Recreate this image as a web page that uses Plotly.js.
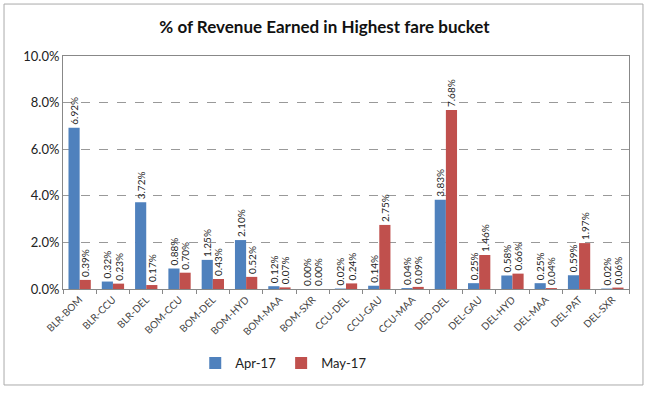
<!DOCTYPE html>
<html><head><meta charset="utf-8">
<script src="https://cdn.plot.ly/plotly-3.0.1.min.js"></script>
<style>html,body{margin:0;padding:0;background:#fff}#c{width:649px;height:393px}</style>
</head><body><div id="c"></div>
<script>
const categories = ["BLR-BOM","BLR-CCU","BLR-DEL","BOM-CCU","BOM-DEL","BOM-HYD","BOM-MAA","BOM-SXR","CCU-DEL","CCU-GAU","CCU-MAA","DED-DEL","DEL-GAU","DEL-HYD","DEL-MAA","DEL-PAT","DEL-SXR"];
const apr17 = [6.92,0.32,3.72,0.88,1.25,2.10,0.12,0.00,0.02,0.14,0.04,3.83,0.25,0.58,0.25,0.59,0.02];
const may17 = [0.39,0.23,0.17,0.70,0.43,0.52,0.07,0.00,0.24,2.75,0.09,7.68,1.46,0.66,0.04,1.97,0.06];
const yTicks = [0,2,4,6,8,10];

const font = "Lato, 'Open Sans', sans-serif";
const mk = (name, y, color) => ({
  type: 'bar', name, x: categories, y,
  marker: {color},
  text: y.map(v => v.toFixed(2) + '%'),
  textposition: 'outside', textangle: -90, constraintext: 'none',
  textfont: {size: 10, color: '#222', family: font},
  cliponaxis: false
});
const data = [mk('Apr-17', apr17, '#4F81BD'), mk('May-17', may17, '#C0504D')];
const layout = {
  width: 649, height: 393,
  margin: {l: 63, r: 20, t: 56, b: 104},
  paper_bgcolor: '#fff', plot_bgcolor: '#fff',
  font: {family: font, color: '#222'},
  title: {text: '<b>% of Revenue Earned in Highest fare bucket</b>', font: {size: 17, family: font, color: '#111'}, x: 0.5, xanchor: 'center', y: 0.932, yanchor: 'middle'},
  barmode: 'group', bargap: 0.33, bargroupgap: 0,
  showlegend: true,
  legend: {orientation: 'h', x: 0.39, xanchor: 'center', y: -0.318, yanchor: 'middle', font: {size: 13, family: font}, itemwidth: 30, itemsizing: 'constant'},
  xaxis: {
    type: 'category', tickangle: -45, tickfont: {size: 10, family: font, color: '#444'},
    showline: true, linecolor: '#888', mirror: true,
    ticks: 'outside', ticklen: 4, tickcolor: '#888', tickson: 'boundaries',
    showgrid: false, zeroline: false
  },
  yaxis: {
    range: [0, 10], tickvals: yTicks, ticktext: yTicks.map(v => v.toFixed(1) + '%'),
    tickfont: {size: 13, family: font, color: '#222'},
    showline: true, linecolor: '#888', mirror: true,
    showgrid: true, gridcolor: '#999', griddash: 'dash', gridwidth: 1,
    zeroline: false, ticks: '', ticklen: 0
  },
  shapes: [{
    type: 'rect', xref: 'paper', yref: 'paper',
    x0: -0.1042, x1: 1.0247, y0: -0.412, y1: 1.223,
    line: {color: '#aaa', width: 1}, fillcolor: 'rgba(0,0,0,0)', layer: 'below'
  }]
};
Plotly.newPlot('c', data, layout, {staticPlot: true, displayModeBar: false});
</script></body></html>
